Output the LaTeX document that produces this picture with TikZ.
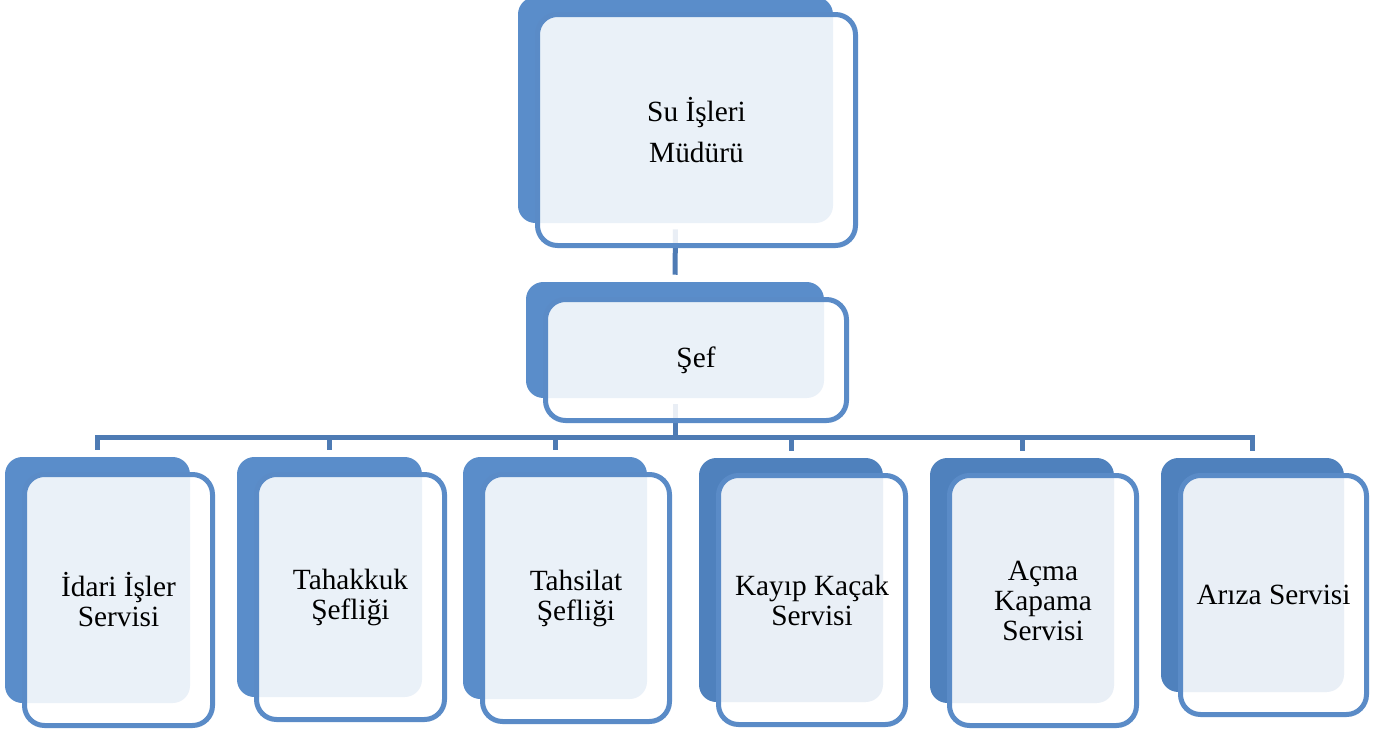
\documentclass[tikz,border=0pt]{standalone}
\usepackage{fontspec}
\setmainfont{Liberation Serif}
\definecolor{backA}{HTML}{5A8DCA}
\definecolor{backB}{HTML}{4F81BD}
\definecolor{edge}{HTML}{5A8BC7}
\definecolor{conn}{HTML}{4E7BB4}
\pgfdeclarelayer{bg}
\pgfsetlayers{bg,main}
\tikzset{
 backbox/.style={fill=#1, rounded corners=13pt, inner sep=0pt, draw=none},
 frontbox/.style={draw=edge, line width=3.75pt, fill=white, fill opacity=0.88, draw opacity=1, text opacity=1, rounded corners=15pt, inner sep=0pt, align=center, text=black, font=\fontsize{22}{22.5}\selectfont},
 link/.style={draw=conn, line width=3.75pt},
}
\newcommand\orgunit[8][]{%
 \node[backbox=#7, minimum width={(#5-#3)*0.75pt}, minimum height={(#6-#4)*0.75pt}] (#2-b) at ({(#3+#5)/2},{(#4+#6)/2}) {};
 \node[frontbox, minimum width={(#5-#3+3)*0.75pt}, minimum height={(#6-#4+5)*0.75pt}, #1] (#2) at ({(#3+#5)/2+21},{(#4+#6)/2+20}) {#8};
}
\begin{document}
\begin{tikzpicture}[x=0.75pt,y=-0.75pt]
\useasboundingbox (0,0) rectangle (1390,733);
\orgunit[font=\fontsize{22}{30.75}\selectfont]{top}{518}{-3}{833}{223}{backA}{Su İşleri\\Müdürü}
\orgunit{sef}{526}{282}{824}{398}{backA}{Şef}
\orgunit{idari}{5}{457}{190}{703}{backA}{İdari İşler\\Servisi}
\orgunit{tahakkuk}{237}{457}{422}{697}{backA}{Tahakkuk\\Şefliği}
\orgunit{tahsilat}{463}{457}{647}{699}{backA}{Tahsilat\\Şefliği}
\orgunit{kayip}{699}{458}{883}{702}{backB}{Kayıp Kaçak\\Servisi}
\orgunit{acma}{930}{458}{1114}{703}{backB}{Açma\\Kapama\\Servisi}
\orgunit{ariza}{1161}{458}{1344}{692}{backB}{Arıza Servisi}
\coordinate (busy) at (0,437);
\coordinate (bus) at (sef-b.south |- busy);
\begin{pgfonlayer}{bg}
\draw[link, shorten <=4.5pt, shorten >=5.25pt] (top-b.south) -- (sef-b.north);
\draw[link, shorten <=4.5pt] (sef-b.south) -- (bus);
\foreach \c in {idari,tahakkuk,tahsilat,kayip,acma,ariza}
  \draw[link] (bus) -| ([yshift=5.25pt]\c-b.north);
\end{pgfonlayer}
\end{tikzpicture}
\end{document}
